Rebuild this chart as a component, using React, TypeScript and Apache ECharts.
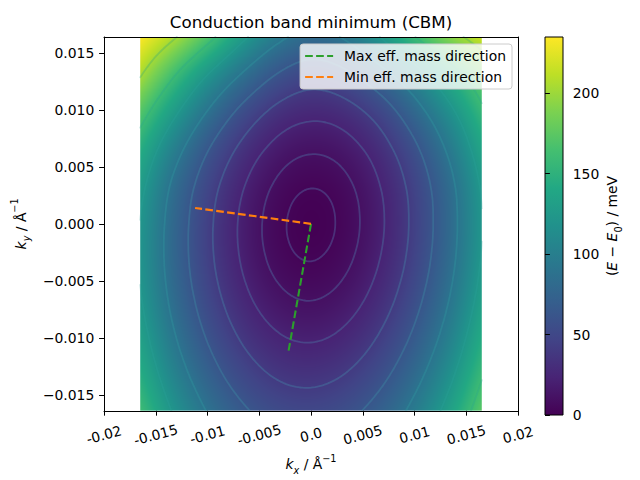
import React, { useEffect, useRef } from "react";
import * as echarts from "echarts";

// ---- data ----
const KX = [-0.0165, -0.0132, -0.0099, -0.0066, -0.0033, 0, 0.0033, 0.0066, 0.0099, 0.0132, 0.0165];
const KY = [-0.0164, -0.01312, -0.00984, -0.00656, -0.00328, 0, 0.00328, 0.00656, 0.00984, 0.01312, 0.0164];
// rows from bottom (ky = -0.0164) to top (ky = 0.0164), meV
const ENERGY_MEV = [
  [160, 119.3, 87.9, 65.9, 53.3, 50, 56.1, 71.5, 96.3, 130.5, 174],
  [144.9, 104.0, 72.5, 50.3, 37.5, 34.1, 40.0, 55.2, 79.8, 113.8, 157.1],
  [132.8, 91.5, 59.6, 37.1, 24.0, 20.3, 26.0, 41.1, 65.5, 99.4, 142.7],
  [124.5, 82.5, 50.1, 27.1, 13.6, 9.5, 15.0, 29.9, 54.3, 88.2, 131.5],
  [120.6, 77.8, 44.6, 21.0, 6.9, 2.5, 7.7, 22.5, 46.8, 80.8, 124.4],
  [122, 78.1, 43.9, 19.5, 4.9, 0, 4.9, 19.5, 43.9, 78.1, 122],
  [129.5, 84.2, 48.9, 23.6, 8.2, 2.8, 7.3, 21.9, 46.3, 80.8, 125.2],
  [146, 101, 63, 35, 17.8, 11.6, 16, 31, 57, 93, 137],
  [172, 128, 88, 56, 35, 27.2, 32, 49, 78, 114, 155],
  [205, 162, 122, 88, 62, 50.4, 58, 80, 110, 145, 180],
  [235, 205, 168, 128, 97, 82, 93, 122, 158, 190, 216],
];
const CONTOUR_LEVELS = [2.5, 10, 22.5, 40, 62.5, 90, 122.5, 160, 202.5];
const E_RANGE = [0, 235];

const MAX_MASS_KX = [0, -0.0022];
const MAX_MASS_KY = [0, -0.0113];
const MIN_MASS_KX = [0, -0.0112];
const MIN_MASS_KY = [0, 0.0014];
const SERIES_NAMES = ["Max eff. mass direction", "Min eff. mass direction"];

const X_TICKS = [-0.02, -0.015, -0.01, -0.005, 0, 0.005, 0.01, 0.015, 0.02];
const X_TICK_LABELS = ["-0.02", "-0.015", "-0.01", "-0.005", "0.0", "0.005", "0.01", "0.015", "0.02"];
const Y_TICKS = [-0.015, -0.01, -0.005, 0, 0.005, 0.01, 0.015];
const Y_TICK_LABELS = ["\u22120.015", "\u22120.010", "\u22120.005", "0.000", "0.005", "0.010", "0.015"];
const CBAR_TICKS = [0, 50, 100, 150, 200];
const CBAR_TICK_LABELS = ["0", "50", "100", "150", "200"];

const X_RANGE = [-0.02, 0.02];
const Y_RANGE = [-0.0164, 0.0164];

// ---- styling ----
const FONT = "DejaVu Sans";
const FS = 13.9;
const DASH = [7.7, 3.3];
const DASH_ICON = "path://M0 0h7.7v2.1h-7.7zM11 0h7.7v2.1h-7.7zM22 0h6v2.1h-6z";
const VIRIDIS = ["#440154", "#482475", "#414487", "#355f8d", "#2a788e", "#21918c", "#22a884", "#44bf70", "#7ad151", "#bddf26", "#fde725"];
const VIRIDIS_RGB = VIRIDIS.map((h) => [parseInt(h.slice(1, 3), 16), parseInt(h.slice(3, 5), 16), parseInt(h.slice(5, 7), 16)]);

function viridisRGB(t: number) {
  const tt = Math.max(0, Math.min(1, t));
  const x = tt * (VIRIDIS_RGB.length - 1);
  const k = Math.min(Math.floor(x), VIRIDIS_RGB.length - 2);
  const f = x - k;
  const a = VIRIDIS_RGB[k], b = VIRIDIS_RGB[k + 1];
  return [a[0] + (b[0] - a[0]) * f, a[1] + (b[1] - a[1]) * f, a[2] + (b[2] - a[2]) * f];
}

const NX = KX.length;
const NY = KY.length;

function at(ix: number, iy: number): number {
  if (iy < 0) return 2 * at(ix, 0) - at(ix, 1);
  if (iy > NY - 1) return 2 * at(ix, NY - 1) - at(ix, NY - 2);
  const row = ENERGY_MEV[iy];
  if (ix < 0) return 2 * row[0] - row[1];
  if (ix > NX - 1) return 2 * row[NX - 1] - row[NX - 2];
  return row[ix];
}
function cubic(p0: number, p1: number, p2: number, p3: number, t: number) {
  return p1 + 0.5 * t * (p2 - p0 + t * (2 * p0 - 5 * p1 + 4 * p2 - p3 + t * (3 * (p1 - p2) + p3 - p0)));
}
// smooth shading between grid samples
function sample(gx: number, gy: number) {
  const ix = Math.max(0, Math.min(Math.floor(gx), NX - 2));
  const iy = Math.max(0, Math.min(Math.floor(gy), NY - 2));
  const tx = gx - ix, ty = gy - iy;
  const c: number[] = [];
  for (let m = -1; m <= 2; m++) {
    c.push(cubic(at(ix - 1, iy + m), at(ix, iy + m), at(ix + 1, iy + m), at(ix + 2, iy + m), tx));
  }
  return Math.max(0, cubic(c[0], c[1], c[2], c[3], ty));
}
const kxAt = (g: number) => KX[0] + (g * (KX[NX - 1] - KX[0])) / (NX - 1);
const kyAt = (g: number) => KY[0] + (g * (KY[NY - 1] - KY[0])) / (NY - 1);

function lookup(ticks: number[], labels: string[]) {
  return (v: number) => {
    const k = ticks.findIndex((t) => Math.abs(t - v) < 1e-9);
    return k >= 0 ? labels[k] : "";
  };
}

const richBase = {
  t: { fontFamily: FONT, fontSize: FS, color: "#000", lineHeight: 22 },
  i: { fontFamily: FONT, fontSize: FS, color: "#000", lineHeight: 22, fontStyle: "italic" },
  isub: { fontFamily: FONT, fontSize: 9.7, color: "#000", lineHeight: 13, fontStyle: "italic", verticalAlign: "bottom" },
  sub: { fontFamily: FONT, fontSize: 9.7, color: "#000", lineHeight: 13, verticalAlign: "bottom" },
  sup: { fontFamily: FONT, fontSize: 9.7, color: "#000", lineHeight: 12, verticalAlign: "top" },
};

export default function App() {
  const ref = useRef<HTMLDivElement>(null);

  useEffect(() => {
    const chart = echarts.init(ref.current!, null, { renderer: "svg" });

    // fine field for contour tracing
    const M = 161;
    const field: number[][] = [];
    for (let r = 0; r < M; r++) {
      const row: number[] = [];
      for (let c = 0; c < M; c++) row.push(sample((c * (NX - 1)) / (M - 1), (r * (NY - 1)) / (M - 1)));
      field.push(row);
    }

    let heatCache: { key: string; url: string } | null = null;
    const heatImage = (W: number, H: number) => {
      const key = `${W}x${H}`;
      if (heatCache && heatCache.key === key) return heatCache.url;
      const canvas = document.createElement("canvas");
      canvas.width = W;
      canvas.height = H;
      const ctx = canvas.getContext("2d")!;
      const img = ctx.createImageData(W, H);
      for (let py = 0; py < H; py++) {
        const gy = ((H - py - 0.5) / H) * (NY - 1);
        for (let px = 0; px < W; px++) {
          const gx = ((px + 0.5) / W) * (NX - 1);
          const v = sample(gx, gy);
          const rgb = viridisRGB((v - E_RANGE[0]) / (E_RANGE[1] - E_RANGE[0]));
          const o = (py * W + px) * 4;
          img.data[o] = Math.round(rgb[0]);
          img.data[o + 1] = Math.round(rgb[1]);
          img.data[o + 2] = Math.round(rgb[2]);
          img.data[o + 3] = 255;
        }
      }
      ctx.putImageData(img, 0, 0);
      heatCache = { key, url: canvas.toDataURL("image/png") };
      return heatCache.url;
    };

    const axisLineStyle = { color: "#000", width: 1 };
    const tickStyle = { color: "#000", width: 1 };

    const option: any = {
      animation: false,
      backgroundColor: "#fff",
      textStyle: { fontFamily: FONT },
      title: {
        text: "Conduction band minimum (CBM)",
        left: 311,
        top: 13,
        textAlign: "center",
        padding: 0,
        textStyle: { fontFamily: FONT, fontSize: 16.7, fontWeight: "normal", color: "#000" },
      },
      legend: {
        data: SERIES_NAMES.map((name) => ({ name, icon: DASH_ICON })),
        orient: "vertical",
        right: 128,
        top: 44,
        z: 20,
        itemWidth: 28,
        itemHeight: 14,
        itemGap: 7,
        padding: [5, 6, 5, 5],
        backgroundColor: "rgba(255,255,255,0.8)",
        borderColor: "#cccccc",
        borderWidth: 1,
        borderRadius: 3,
        selectedMode: false,
        textStyle: { fontFamily: FONT, fontSize: FS, color: "#000", padding: [0, 0, 0, 6] },
      },
      grid: [
        { left: 104, top: 37, width: 414, height: 378 },
        { left: 545, top: 37, width: 18, height: 378 },
      ],
      xAxis: [
        {
          gridIndex: 0,
          type: "value",
          min: X_RANGE[0],
          max: X_RANGE[1],
          z: 10,
          axisLine: { show: true, onZero: false, lineStyle: axisLineStyle },
          axisTick: { show: true, length: 4.9, inside: false, lineStyle: tickStyle, customValues: X_TICKS },
          axisLabel: {
            customValues: X_TICKS,
            formatter: lookup(X_TICKS, X_TICK_LABELS),
            rotate: 15,
            align: "center",
            verticalAlign: "middle",
            margin: 24,
            fontFamily: FONT,
            fontSize: FS,
            color: "#000",
          },
          splitLine: { show: false },
          name: "{i|k}{isub|x}{t| / Å}{sup|\u22121}",
          nameLocation: "middle",
          nameGap: 42,
          nameTextStyle: { rich: richBase },
        },
        {
          gridIndex: 0,
          type: "value",
          position: "top",
          min: X_RANGE[0],
          max: X_RANGE[1],
          z: 10,
          axisLine: { show: true, onZero: false, lineStyle: axisLineStyle },
          axisTick: { show: false },
          axisLabel: { show: false },
          splitLine: { show: false },
        },
        { gridIndex: 1, type: "value", min: 0, max: 1, show: false },
      ],
      yAxis: [
        {
          gridIndex: 0,
          type: "value",
          min: Y_RANGE[0],
          max: Y_RANGE[1],
          z: 10,
          axisLine: { show: true, onZero: false, lineStyle: axisLineStyle },
          axisTick: { show: true, length: 4.9, lineStyle: tickStyle, customValues: Y_TICKS },
          axisLabel: {
            customValues: Y_TICKS,
            formatter: lookup(Y_TICKS, Y_TICK_LABELS),
            margin: 9.7,
            fontFamily: FONT,
            fontSize: FS,
            color: "#000",
          },
          splitLine: { show: false },
          name: "{i|k}{isub|y}{t| / Å}{sup|\u22121}",
          nameLocation: "middle",
          nameGap: 62,
          nameTextStyle: { rich: richBase },
        },
        {
          gridIndex: 0,
          type: "value",
          position: "right",
          min: Y_RANGE[0],
          max: Y_RANGE[1],
          z: 10,
          axisLine: { show: true, onZero: false, lineStyle: axisLineStyle },
          axisTick: { show: false },
          axisLabel: { show: false },
          splitLine: { show: false },
        },
        {
          gridIndex: 1,
          type: "value",
          position: "right",
          min: E_RANGE[0],
          max: E_RANGE[1],
          z: 10,
          axisLine: { show: false },
          axisTick: { show: true, length: 4.9, lineStyle: tickStyle, customValues: CBAR_TICKS },
          axisLabel: {
            customValues: CBAR_TICKS,
            formatter: lookup(CBAR_TICKS, CBAR_TICK_LABELS),
            margin: 9.7,
            fontFamily: FONT,
            fontSize: FS,
            color: "#000",
          },
          splitLine: { show: false },
          name: "{t|(}{i|E}{t| \u2212 }{i|E}{sub|0}{t|) / meV}",
          nameLocation: "middle",
          nameGap: 38,
          nameTextStyle: { rich: richBase },
        },
      ],
      series: [
        {
          type: "custom",
          name: "energy",
          xAxisIndex: 0,
          yAxisIndex: 0,
          silent: true,
          z: 1,
          data: [[KX[0], KY[0], KX[NX - 1], KY[NY - 1]]],
          renderItem: (params: any, api: any) => {
            const p0 = api.coord([api.value(0), api.value(1)]);
            const p1 = api.coord([api.value(2), api.value(3)]);
            const w = p1[0] - p0[0];
            const h = p0[1] - p1[1];
            const url = heatImage(Math.max(1, Math.round(w)), Math.max(1, Math.round(h)));
            return {
              type: "image",
              style: { image: url, x: p0[0], y: p1[1], width: w, height: h },
              silent: true,
            };
          },
        },
        {
          type: "custom",
          name: "contours",
          xAxisIndex: 0,
          yAxisIndex: 0,
          silent: true,
          z: 2,
          data: CONTOUR_LEVELS.map((L, k) => [0, 0, L, k]),
          renderItem: (params: any, api: any) => {
            const L = api.value(2);
            const k = api.value(3);
            const toPx = (c: number, r: number) => {
              const gx = (c * (NX - 1)) / (M - 1);
              const gy = (r * (NY - 1)) / (M - 1);
              return api.coord([kxAt(gx), kyAt(gy)]);
            };
            let d = "";
            const seg = (A: number[], B: number[]) => {
              const pa = toPx(A[0], A[1]);
              const pb = toPx(B[0], B[1]);
              d += `M${pa[0].toFixed(1)} ${pa[1].toFixed(1)}L${pb[0].toFixed(1)} ${pb[1].toFixed(1)}`;
            };
            for (let r = 0; r < M - 1; r++) {
              for (let c = 0; c < M - 1; c++) {
                const v00 = field[r][c], v10 = field[r][c + 1], v11 = field[r + 1][c + 1], v01 = field[r + 1][c];
                const pts: number[][] = [];
                if (v00 < L !== v10 < L) pts.push([c + (L - v00) / (v10 - v00), r]);
                if (v10 < L !== v11 < L) pts.push([c + 1, r + (L - v10) / (v11 - v10)]);
                if (v01 < L !== v11 < L) pts.push([c + (L - v01) / (v11 - v01), r + 1]);
                if (v00 < L !== v01 < L) pts.push([c, r + (L - v00) / (v01 - v00)]);
                if (pts.length === 2) seg(pts[0], pts[1]);
                else if (pts.length === 4) {
                  seg(pts[0], pts[1]);
                  seg(pts[2], pts[3]);
                }
              }
            }
            const f = CONTOUR_LEVELS.length > 1 ? k / (CONTOUR_LEVELS.length - 1) : 0;
            const c0 = [95, 175, 215], c1 = [25, 160, 135];
            const col = c0.map((x, n) => Math.round(x + (c1[n] - x) * f));
            return {
              type: "path",
              shape: { pathData: d },
              style: { fill: "none", stroke: `rgba(${col[0]},${col[1]},${col[2]},0.26)`, lineWidth: 1.8, lineCap: "round", lineJoin: "round" },
              silent: true,
            };
          },
        },
        {
          type: "line",
          name: SERIES_NAMES[0],
          xAxisIndex: 0,
          yAxisIndex: 0,
          z: 5,
          silent: true,
          symbol: "none",
          showSymbol: false,
          data: MAX_MASS_KX.map((x, n) => [x, MAX_MASS_KY[n]]),
          lineStyle: { color: "#2ca02c", width: 2.1, type: DASH },
          itemStyle: { color: "#2ca02c" },
        },
        {
          type: "line",
          name: SERIES_NAMES[1],
          xAxisIndex: 0,
          yAxisIndex: 0,
          z: 6,
          silent: true,
          symbol: "none",
          showSymbol: false,
          data: MIN_MASS_KX.map((x, n) => [x, MIN_MASS_KY[n]]),
          lineStyle: { color: "#ff7f0e", width: 2.1, type: DASH },
          itemStyle: { color: "#ff7f0e" },
        },
        {
          type: "custom",
          name: "colorbar",
          xAxisIndex: 2,
          yAxisIndex: 2,
          silent: true,
          z: 1,
          data: [[0, E_RANGE[0]]],
          renderItem: (params: any, api: any) => {
            const p0 = api.coord([0, E_RANGE[0]]);
            const p1 = api.coord([1, E_RANGE[1]]);
            return {
              type: "rect",
              shape: { x: p0[0], y: p1[1], width: p1[0] - p0[0], height: p0[1] - p1[1] },
              style: {
                fill: new echarts.graphic.LinearGradient(0, 1, 0, 0, VIRIDIS.map((c, n) => ({ offset: n / (VIRIDIS.length - 1), color: c }))),
                stroke: "#000",
                lineWidth: 1,
              },
              silent: true,
            };
          },
        },
      ],
    };

    chart.setOption(option);
    return () => chart.dispose();
  }, []);

  return <div ref={ref} style={{ position: "fixed", left: 0, top: 0, width: 640, height: 480 }} />;
}
